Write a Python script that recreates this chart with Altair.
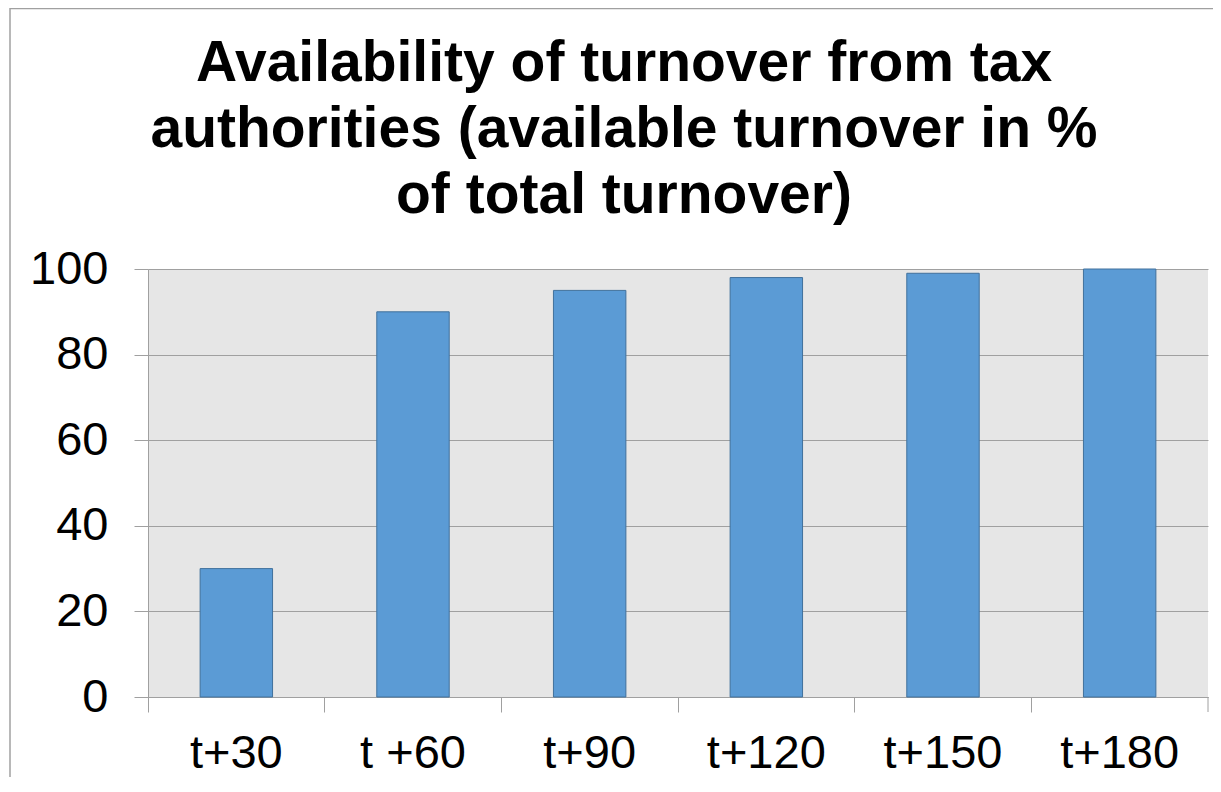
import altair as alt
import pandas as pd

categories = ["t+30", "t +60", "t+90", "t+120", "t+150", "t+180"]
values = [30, 90, 95, 98, 99, 100]
y_ticks = [0, 20, 40, 60, 80, 100]
title_lines = ["Availability of turnover from tax",
               "authorities (available turnover in %",
               "of total turnover)"]

df = pd.DataFrame({"period": categories, "share": values})
one = pd.DataFrame({"k": [0]})

FONT = "Liberation Sans"
GRAY = "#A0A0A0"
W, H = 1060, 428

bars = alt.Chart(df).mark_bar(
    width=alt.RelativeBandSize(0.41),
    color="#5B9BD5",
    stroke="#41719C",
    strokeWidth=1,
).encode(
    x=alt.X("period:N", sort=categories,
            scale=alt.Scale(paddingInner=0, paddingOuter=0),
            axis=alt.Axis(title=None, bandPosition=0,
                          labelFont=FONT, labelFontSize=47, labelColor="black",
                          labelAngle=0, labelPadding=18,
                          tickSize=15, tickColor=GRAY, domainColor=GRAY,
                          grid=False)),
    y=alt.Y("share:Q", scale=alt.Scale(domain=[0, 100], nice=False),
            axis=alt.Axis(title=None, values=y_ticks,
                          labelFont=FONT, labelFontSize=47, labelColor="black",
                          labelPadding=26, tickSize=14, tickColor=GRAY,
                          domainColor=GRAY, grid=True, gridColor=GRAY)),
)

end_tick = alt.Chart(one).mark_rule(color=GRAY, strokeWidth=1).encode(
    x=alt.value(W), y=alt.value(H), y2=alt.value(H + 15))

frame_left = alt.Chart(one).mark_rule(color=GRAY, strokeWidth=1.5).encode(
    x=alt.value(-138), y=alt.value(-262), y2=alt.value(H + 100))
frame_top = alt.Chart(one).mark_rule(color=GRAY, strokeWidth=1.5).encode(
    y=alt.value(-260.5), x=alt.value(-138), x2=alt.value(W + 20))

title = alt.Chart(one).mark_text(
    font=FONT, fontSize=57, fontWeight="bold", color="black",
    align="center", baseline="alphabetic", lineHeight=66,
).encode(x=alt.value(476), y=alt.value(-188), text=alt.value(title_lines))

chart = alt.layer(bars, end_tick, frame_left, frame_top, title).properties(
    width=W, height=H,
    autosize=alt.AutoSizeParams(type="none"),
    padding={"left": 140, "top": 261, "right": 5, "bottom": 80},
).configure_view(fill="#E6E6E6", stroke=None)

chart.save("out.html", embed_options={"renderer": "svg", "actions": False})
